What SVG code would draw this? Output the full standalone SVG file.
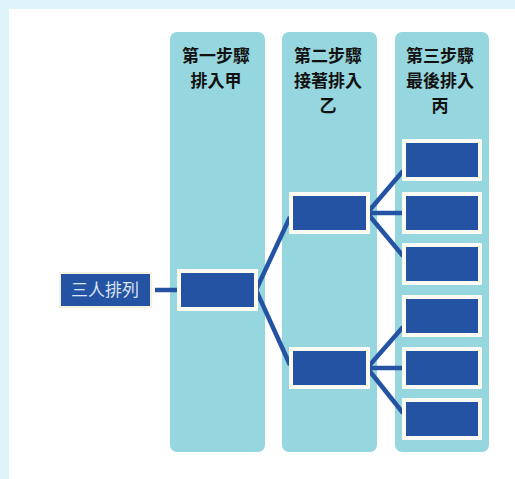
<svg xmlns="http://www.w3.org/2000/svg" width="515" height="479" viewBox="0 0 515 479">
<style>
.col{fill:#96d6de}
.box{fill:#2453a4;stroke:#fcfbf3;stroke-width:4}
.hd{font-family:"Noto Sans CJK TC","Noto Sans CJK SC",sans-serif;font-size:17px;font-weight:700;fill:#111;text-anchor:middle}
.lbl{font-family:"Noto Sans CJK TC","Noto Sans CJK SC",sans-serif;font-size:17px;fill:#dde4f2;text-anchor:middle}
.cn{stroke:#2453a4;stroke-width:4.5;fill:none;stroke-linecap:butt}
</style>
<rect x="0" y="0" width="515" height="479" fill="#dff3fa"/>
<rect x="9" y="9" width="506" height="470" fill="#ffffff"/>
<g id="columns">
<rect class="col" x="170" y="32" width="95" height="420" rx="7"/>
<rect class="col" x="282" y="32" width="95" height="420" rx="7"/>
<rect class="col" x="395" y="32" width="94" height="420" rx="7"/>
</g>
<g id="headers">
<text class="hd" x="216" y="62">第一步驟</text>
<text class="hd" x="216" y="87">排入甲</text>
<text class="hd" x="328" y="62">第二步驟</text>
<text class="hd" x="328" y="87">接著排入</text>
<text class="hd" x="328" y="112">乙</text>
<text class="hd" x="440" y="62">第三步驟</text>
<text class="hd" x="440" y="87">最後排入</text>
<text class="hd" x="440" y="112">丙</text>
</g>
<g id="connectors">
<line class="cn" x1="155" y1="290" x2="179" y2="290"/>
<line class="cn" x1="256" y1="290" x2="290" y2="217"/>
<line class="cn" x1="256" y1="290" x2="290" y2="365"/>
<line class="cn" x1="368" y1="212" x2="403" y2="171"/>
<line class="cn" x1="368" y1="213" x2="403" y2="213"/>
<line class="cn" x1="368" y1="214" x2="403" y2="256"/>
<line class="cn" x1="368" y1="367" x2="403" y2="327"/>
<line class="cn" x1="368" y1="368" x2="403" y2="368"/>
<line class="cn" x1="368" y1="369" x2="403" y2="413"/>
</g>
<g id="root">
<rect x="60" y="273" width="91" height="34" fill="#2453a4" stroke="#f4f1e2" stroke-width="2"/>
<text class="lbl" x="105" y="296">三人排列</text>
</g>
<g id="step1"><rect class="box" x="179" y="271" width="77" height="38"/></g>
<g id="step2a"><rect class="box" x="291" y="194" width="77" height="38"/></g>
<g id="step2b"><rect class="box" x="291" y="349" width="77" height="38"/></g>
<g id="step3a"><rect class="box" x="404" y="141" width="76" height="38"/></g>
<g id="step3b"><rect class="box" x="404" y="194" width="76" height="38"/></g>
<g id="step3c"><rect class="box" x="404" y="245" width="76" height="38"/></g>
<g id="step3d"><rect class="box" x="404" y="297" width="76" height="38"/></g>
<g id="step3e"><rect class="box" x="404" y="349" width="76" height="38"/></g>
<g id="step3f"><rect class="box" x="404" y="400" width="76" height="38"/></g>
</svg>
